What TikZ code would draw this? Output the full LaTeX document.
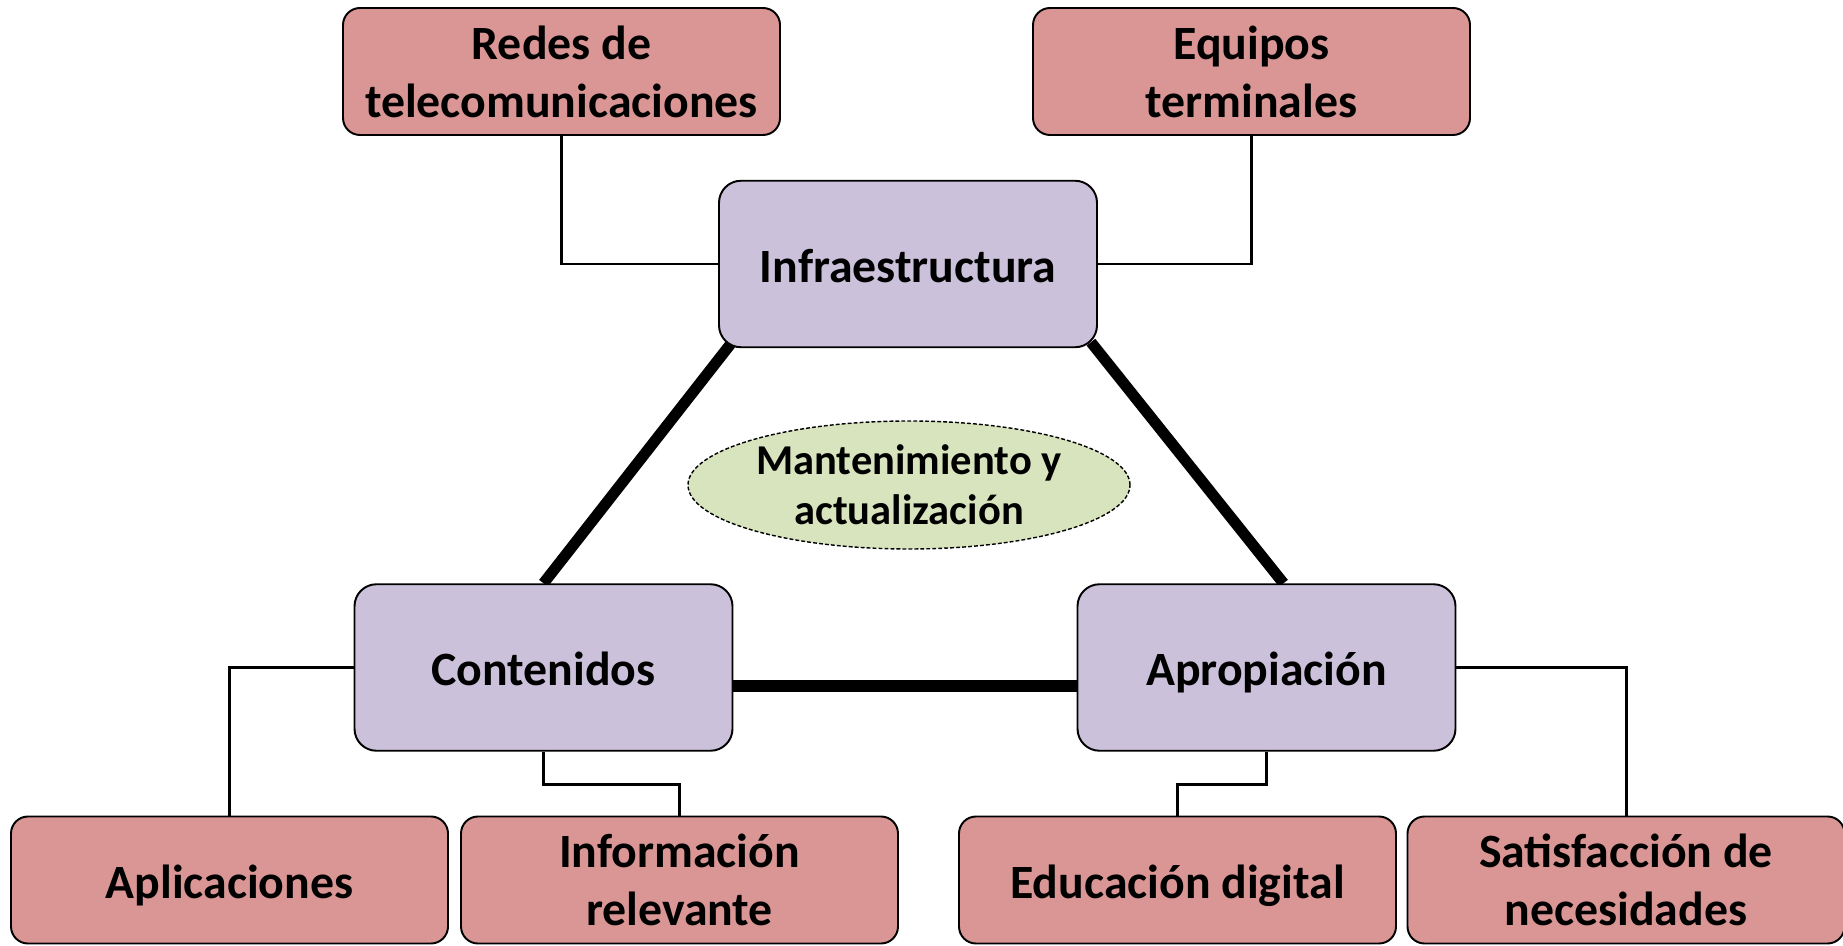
\documentclass[tikz,border=0pt]{standalone}
\usepackage{fontspec}
\setmainfont{Carlito}
\usetikzlibrary{shapes.geometric,backgrounds}
\definecolor{pinkbox}{HTML}{D99694}
\definecolor{lilabox}{HTML}{CCC1DA}
\definecolor{greenbox}{HTML}{D7E4BD}
\begin{document}
\begin{tikzpicture}[
  pinknode/.style={draw, line width=1.1pt, fill=pinkbox, rounded corners=0.34cm,
    minimum width=8.74cm, minimum height=2.54cm, inner sep=0pt, align=center,
    font=\fontsize{27.2}{33}\selectfont\bfseries},
  lilanode/.style={draw, line width=1.1pt, fill=lilabox, rounded corners=0.44cm,
    minimum width=7.56cm, minimum height=3.33cm, inner sep=0pt,
    text height=22pt, text depth=1.5pt, font=\fontsize{27.2}{33}\selectfont\bfseries},
  oneline/.style={align=left, text height=22pt, text depth=1.5pt},
  ovalnode/.style={draw, ellipse, line width=0.8pt, dash pattern=on 2.2pt off 1.2pt,
    fill=greenbox, minimum width=8.84cm, minimum height=2.56cm, inner sep=0pt,
    align=center, font=\fontsize{24.2}{28.6}\selectfont\bfseries},
  thinline/.style={line width=1.7pt},
  thickline/.style={line width=6.3pt}
]
\useasboundingbox (0,0) rectangle (36.86,18.9);

\node[pinknode] (redes) at (11.23,17.47) {Redes de\\telecomunicaciones};
\node[pinknode] (equipos) at (25.03,17.47) {Equipos\\terminales};
\node[lilanode] (infra) at (18.16,13.62) {Infraestructura};
\node[ovalnode] (mant) at (18.18,9.2) {Mantenimiento y\\actualización};
\node[lilanode] (cont) at (10.87,5.55) {Contenidos};
\node[lilanode] (aprop) at (25.33,5.55) {Apropiación};
\node[pinknode,oneline] (aplic) at (4.59,1.3) {Aplicaciones};
\node[pinknode] (info) at (13.59,1.3) {Información\\relevante};
\node[pinknode,oneline] (educ) at (23.55,1.3) {Educación digital};
\node[pinknode] (satis) at (32.52,1.3) {Satisfacción de\\necesidades};

\begin{pgfonlayer}{background}
\draw[thickline] (cont.north) -- ([xshift=0.28cm,yshift=0.12cm]infra.south west);
\draw[thickline] ([xshift=0.34cm]aprop.north) -- ([xshift=-0.14cm,yshift=0.12cm]infra.south east);
\draw[thickline, line width=7pt] ([yshift=-0.37cm]cont.east) -- ([yshift=-0.37cm]aprop.west);
\end{pgfonlayer}

\draw[thinline] (redes.south) |- (infra.west);
\draw[thinline] (equipos.south) |- (infra.east);
\draw[thinline] (cont.west) -| (aplic.north);
\draw[thinline] (cont.south) -- ++(0,-0.65) -| (info.north);
\draw[thinline] (aprop.south) -- ++(0,-0.65) -| (educ.north);
\draw[thinline] (aprop.east) -| (satis.north);
\end{tikzpicture}
\end{document}
